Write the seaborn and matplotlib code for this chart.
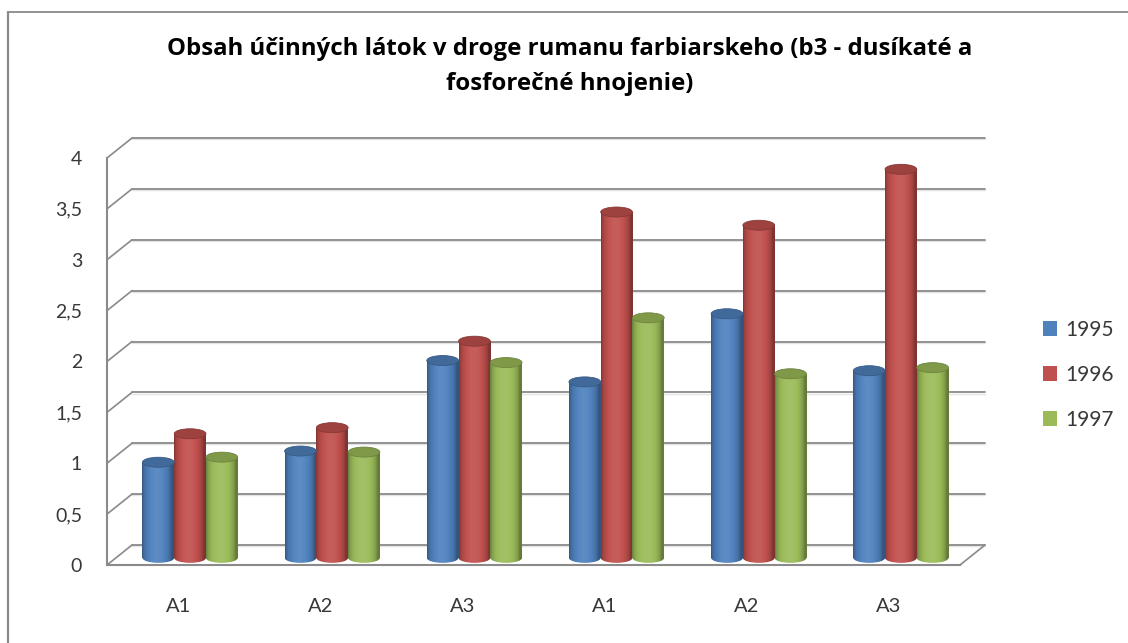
import numpy as np
import pandas as pd
import matplotlib
matplotlib.use("Agg")
import matplotlib.pyplot as plt
import matplotlib.colors as mcolors
from matplotlib.patches import Ellipse, Patch
from matplotlib.lines import Line2D
import seaborn as sns

# ---- data -------------------------------------------------------------
categories = ["A1", "A2", "A3", "A1", "A2", "A3"]
years = ["1995", "1996", "1997"]
v1995 = [0.94, 1.05, 1.94, 1.73, 2.40, 1.84]
v1996 = [1.22, 1.28, 2.13, 3.40, 3.27, 3.82]
v1997 = [0.99, 1.04, 1.92, 2.36, 1.81, 1.87]
colors = ["#4F81BD", "#C0504D", "#9BBB59"]
title = "Obsah účinných látok v droge rumanu farbiarskeho (b3 - dusíkaté a\nfosforečné hnojenie)"
y_ticks = [0, 0.5, 1, 1.5, 2, 2.5, 3, 3.5, 4]

df = pd.DataFrame({
    "pos": np.tile(np.arange(len(categories)), 3),
    "value": v1995 + v1996 + v1997,
    "year": np.repeat(years, len(categories)),
})

# ---- figure setup -----------------------------------------------------
sns.set_theme(style="white")
plt.rcParams["font.family"] = ["Lato", "DejaVu Sans"]

W, H = 1128, 643
fig = plt.figure(figsize=(W / 100, H / 100), dpi=100)
fig.patch.set_facecolor("white")


def px_rect(left, top, right, bottom):
    return [left / W, 1 - bottom / H, (right - left) / W, (bottom - top) / H]


grid_col = "#8a8a8a"
text_col = "#383838"

# front frame of the 3-D box: axis lines and tick labels
axf = fig.add_axes(px_rect(107, 158, 960, 565))
axf.set_xlim(-0.5, 5.5)
axf.set_ylim(0, 4)
axf.set_facecolor("none")
for side in ("top", "right"):
    axf.spines[side].set_visible(False)
for side in ("left", "bottom"):
    axf.spines[side].set_color(grid_col)
    axf.spines[side].set_linewidth(1.5)
axf.set_yticks(y_ticks)
axf.set_yticklabels([f"{t:g}".replace(".", ",") for t in y_ticks])
axf.set_xticks(range(len(categories)))
axf.set_xticklabels(categories)
axf.tick_params(axis="y", length=0, pad=18, labelsize=14, labelcolor=text_col)
axf.tick_params(axis="x", length=0, pad=24, labelsize=14.5, labelcolor=text_col)

# back wall gridlines, side-wall diagonals and floor edge
dx = 25 * 6 / 853
dy = 20 * 4 / 407
for v in y_ticks:
    axf.plot([-0.5 + dx, 5.5 + dx], [v + dy, v + dy], color=grid_col, lw=1.3,
             clip_on=False, zorder=1)
    axf.plot([-0.5 + dx, 5.5 + dx], [v + dy - 0.012, v + dy - 0.012], color="#e4e4e4",
             lw=1.0, clip_on=False, zorder=0.9)
    axf.plot([-0.5, -0.5 + dx], [v, v + dy], color=grid_col, lw=1.2, clip_on=False, zorder=1)
axf.plot([5.5, 5.5 + dx], [0, dy], color=grid_col, lw=1.2, clip_on=False, zorder=1)

# bars (cylinders) in the middle depth plane
ax = fig.add_axes(px_rect(119, 151, 972, 566))
sns.barplot(data=df, x="pos", y="value", hue="year", palette=colors, width=0.67,
            saturation=1, errorbar=None, legend=False, ax=ax)

cap_h = 10 * 4 / 407  # ellipse height of the cylinder caps, in data units
t = np.linspace(0, 1, 64)
shade = 0.66 + 0.42 * np.sin(np.pi * np.clip(t * 1.08, 0, 1)) ** 0.55


def gradient(rgb):
    out = np.empty((1, t.size, 3))
    for i, s in enumerate(shade):
        if s <= 1:
            out[0, i] = rgb * s
        else:
            out[0, i] = rgb + (1 - rgb) * (s - 1)
    return np.clip(out, 0, 1)


bars = list(ax.patches)
for bar in bars:
    x0 = bar.get_x()
    w = bar.get_width()
    h = bar.get_height()
    rgb = np.array(mcolors.to_rgb(bar.get_facecolor()))
    bar.set_facecolor("none")
    bar.set_edgecolor("none")
    img = gradient(rgb)
    body = ax.imshow(img, extent=(x0, x0 + w, 0, h), aspect="auto", zorder=2,
                     interpolation="bilinear")
    body.set_clip_path(bar)
    bottom = Ellipse((x0 + w / 2, 0), w, cap_h, facecolor="none", edgecolor="none")
    ax.add_patch(bottom)
    base = ax.imshow(img, extent=(x0, x0 + w, -cap_h / 2, 0.01), aspect="auto", zorder=2,
                     interpolation="bilinear")
    base.set_clip_path(bottom)
    top = Ellipse((x0 + w / 2, h), w, cap_h, facecolor=rgb * 0.82,
                  edgecolor=rgb * 0.7, lw=0.6, zorder=3)
    ax.add_patch(top)

ax.set_xlim(-0.5, 5.5)
ax.set_ylim(-0.08, 4)
ax.axis("off")

# title
fig.text(570 / W, 1 - 37 / H, title, ha="center", va="top", fontsize=17.3,
         fontweight="bold", color="black", linespacing=1.6,
         family=["Open Sans", "DejaVu Sans"])

# legend
handles = [Patch(facecolor=c, edgecolor="none") for c in colors]
fig.legend(handles, years, loc="center left", bbox_to_anchor=(1024 / W, 1 - 375 / H),
           frameon=False, fontsize=15, handlelength=0.7, handleheight=0.7,
           handletextpad=0.4, labelspacing=1.2, labelcolor=text_col)

# outer chart border (left and top)
fig.add_artist(Line2D([8 / W, 8 / W], [0, 1 - 12 / H], transform=fig.transFigure,
                      color=grid_col, lw=1.6))
fig.add_artist(Line2D([8 / W, 1], [1 - 12 / H, 1 - 12 / H], transform=fig.transFigure,
                      color=grid_col, lw=1.3))

fig.savefig("out.png", dpi=100)
